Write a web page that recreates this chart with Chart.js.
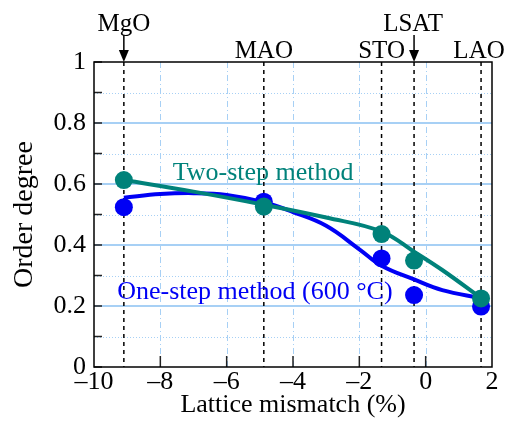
<!DOCTYPE html>
<html>
<head>
<meta charset="utf-8">
<script src="https://cdn.jsdelivr.net/npm/chart.js@4/dist/chart.umd.min.js"></script>
<style>
  html, body { margin: 0; padding: 0; background: #fff; }
  #wrap { width: 508px; height: 429px; }
</style>
</head>
<body>
<div id="wrap"><canvas id="c"></canvas></div>
<script>
// substrates and their lattice mismatch (%)
const substrates = ["MgO", "MAO", "STO", "LSAT", "LAO"];
const mismatch = [-9.1, -4.88, -1.33, -0.35, 1.67];

// measured order degree
const twoStep = [0.613, 0.526, 0.436, 0.349, 0.225];
const oneStep = [0.524, 0.542, 0.356, 0.236, 0.198];

// guide-to-the-eye curves
const twoFitX = [-9.1, -7, -4.88, -3, -1.33, -0.35, 0.5, 1.67];
const twoFitY = [0.613, 0.575, 0.532, 0.49, 0.444, 0.378, 0.318, 0.226];
const oneFitX = [-9.1, -8, -7, -6, -4.88, -4, -3, -2, -1.33, -0.35, 0.5, 1.67];
const oneFitY = [0.555, 0.567, 0.57, 0.564, 0.54, 0.508, 0.463, 0.386, 0.332, 0.287, 0.252, 0.226];

// axis ticks
const xTicks = [-10, -8, -6, -4, -2, 0, 2];
const yTicks = [0, 0.2, 0.4, 0.6, 0.8, 1];
const yMinor = [0.1, 0.3, 0.5, 0.7, 0.9];

const TEAL = "#00827a";
const BLUE = "#0000f5";
const GRIDBLUE = "#a7d0f5";
const FONT = "'Liberation Serif', 'DejaVu Serif', serif";

const pts = (xs, ys) => xs.map((x, i) => ({ x: x, y: ys[i] }));

const decor = {
  id: "decor",
  beforeDatasetsDraw(chart) {
    const { ctx, chartArea: a, scales: { x, y } } = chart;
    ctx.save();
    // minor horizontal dotted lines
    ctx.strokeStyle = GRIDBLUE;
    ctx.lineWidth = 1;
    ctx.setLineDash([1, 2]);
    yMinor.forEach((v) => {
      const py = Math.round(y.getPixelForValue(v)) + 0.5;
      ctx.beginPath(); ctx.moveTo(a.left, py); ctx.lineTo(a.right, py); ctx.stroke();
    });
    // major horizontal lines
    ctx.setLineDash([]);
    ctx.lineWidth = 2;
    yTicks.slice(1, -1).forEach((v) => {
      const py = Math.round(y.getPixelForValue(v));
      ctx.beginPath(); ctx.moveTo(a.left, py); ctx.lineTo(a.right, py); ctx.stroke();
    });
    // vertical dash-dot lines
    ctx.lineWidth = 1;
    ctx.setLineDash([6, 3, 1, 3]);
    xTicks.slice(1, -1).forEach((v) => {
      const px = Math.round(x.getPixelForValue(v)) + 0.5;
      ctx.beginPath(); ctx.moveTo(px, a.top); ctx.lineTo(px, a.bottom); ctx.stroke();
    });
    // substrate dashed lines
    ctx.strokeStyle = "#000";
    ctx.lineWidth = 1.5;
    ctx.setLineDash([4, 4]);
    mismatch.forEach((v) => {
      const px = x.getPixelForValue(v);
      ctx.beginPath(); ctx.moveTo(px, a.top); ctx.lineTo(px, a.bottom); ctx.stroke();
    });
    ctx.setLineDash([]);
    // inner ticks
    ctx.strokeStyle = "#222";
    ctx.lineWidth = 1.5;
    yTicks.concat(yMinor).forEach((v) => {
      const py = y.getPixelForValue(v);
      ctx.beginPath(); ctx.moveTo(a.left, py); ctx.lineTo(a.left + 8, py); ctx.stroke();
    });
    xTicks.slice(1, -1).forEach((v) => {
      const px = x.getPixelForValue(v);
      ctx.beginPath(); ctx.moveTo(px, a.bottom); ctx.lineTo(px, a.bottom - 11); ctx.stroke();
    });
    ctx.restore();
  },
  afterDraw(chart) {
    const { ctx, chartArea: a, scales: { x, y } } = chart;
    ctx.save();
    // frame
    ctx.strokeStyle = "#000";
    ctx.lineWidth = 1.5;
    ctx.strokeRect(a.left, a.top, a.right - a.left, a.bottom - a.top);
    // substrate names above the frame
    ctx.font = "25px " + FONT;
    ctx.fillStyle = "#000";
    ctx.textAlign = "center";
    ctx.textBaseline = "middle";
    const high = { MgO: true, LSAT: true };
    substrates.forEach((s, i) => {
      const px = x.getPixelForValue(mismatch[i]);
      if (high[s]) {
        ctx.fillText(s, s === "LSAT" ? px - 1 : px, 24);
        ctx.beginPath(); ctx.moveTo(px, 35); ctx.lineTo(px, a.top - 8); ctx.stroke();
        ctx.beginPath();
        ctx.moveTo(px - 5, a.top - 12); ctx.lineTo(px + 5, a.top - 12); ctx.lineTo(px, a.top);
        ctx.closePath(); ctx.fill();
      } else {
        ctx.fillText(s, s === "LAO" ? px - 2 : px, 51);
      }
    });
    // series labels
    ctx.font = "26px " + FONT;
    ctx.fillStyle = TEAL;
    ctx.fillText("Two-step method", x.getPixelForValue(-4.9), y.getPixelForValue(0.636));
    ctx.fillStyle = BLUE;
    ctx.fillText("One-step method (600 \u00b0C)", x.getPixelForValue(-5.15), y.getPixelForValue(0.245));
    ctx.restore();
  }
};

new Chart(document.getElementById("c"), {
  type: "scatter",
  data: {
    datasets: [
      { type: "line", data: pts(oneFitX, oneFitY), borderColor: BLUE, borderWidth: 4,
        pointRadius: 0, tension: 0.4, fill: false, order: 4 },
      { data: pts(mismatch, oneStep), backgroundColor: BLUE, borderWidth: 0, pointRadius: 9, order: 3 },
      { type: "line", data: pts(twoFitX, twoFitY), borderColor: TEAL, borderWidth: 4,
        pointRadius: 0, tension: 0.4, fill: false, order: 2 },
      { data: pts(mismatch, twoStep), backgroundColor: TEAL, borderWidth: 0, pointRadius: 9, order: 1 }
    ]
  },
  options: {
    responsive: true,
    maintainAspectRatio: false,
    animation: false,
    layout: { padding: { top: 62, right: 16, left: 0, bottom: 0 } },
    plugins: { legend: { display: false }, tooltip: { enabled: false } },
    scales: {
      x: {
        type: "linear", min: -10, max: 2,
        afterFit: (s) => { s.height = 62; },
        afterBuildTicks: (s) => { s.ticks = xTicks.map((v) => ({ value: v })); },
        grid: { display: false, drawTicks: false },
        border: { display: false },
        ticks: {
          color: "#000", padding: 0, maxRotation: 0, autoSkip: false,
          font: { family: FONT, size: 26 },
          callback: (v) => (v < 0 ? "\u2013" + Math.abs(v) : String(v))
        },
        title: { display: true, text: "Lattice mismatch (%)", color: "#000",
          font: { family: FONT, size: 26 }, padding: { top: 0, bottom: 8 } }
      },
      y: {
        min: 0, max: 1,
        afterFit: (s) => { s.width = 94; },
        afterBuildTicks: (s) => { s.ticks = yTicks.map((v) => ({ value: v })); },
        grid: { display: false, drawTicks: false },
        border: { display: false },
        ticks: {
          color: "#000", padding: 8, autoSkip: false,
          font: { family: FONT, size: 26 },
          callback: (v) => String(v)
        },
        title: { display: true, text: "Order degree", color: "#000",
          font: { family: FONT, size: 28 }, padding: { top: 8, bottom: 0 } }
      }
    }
  },
  plugins: [decor]
});
</script>
</body>
</html>
